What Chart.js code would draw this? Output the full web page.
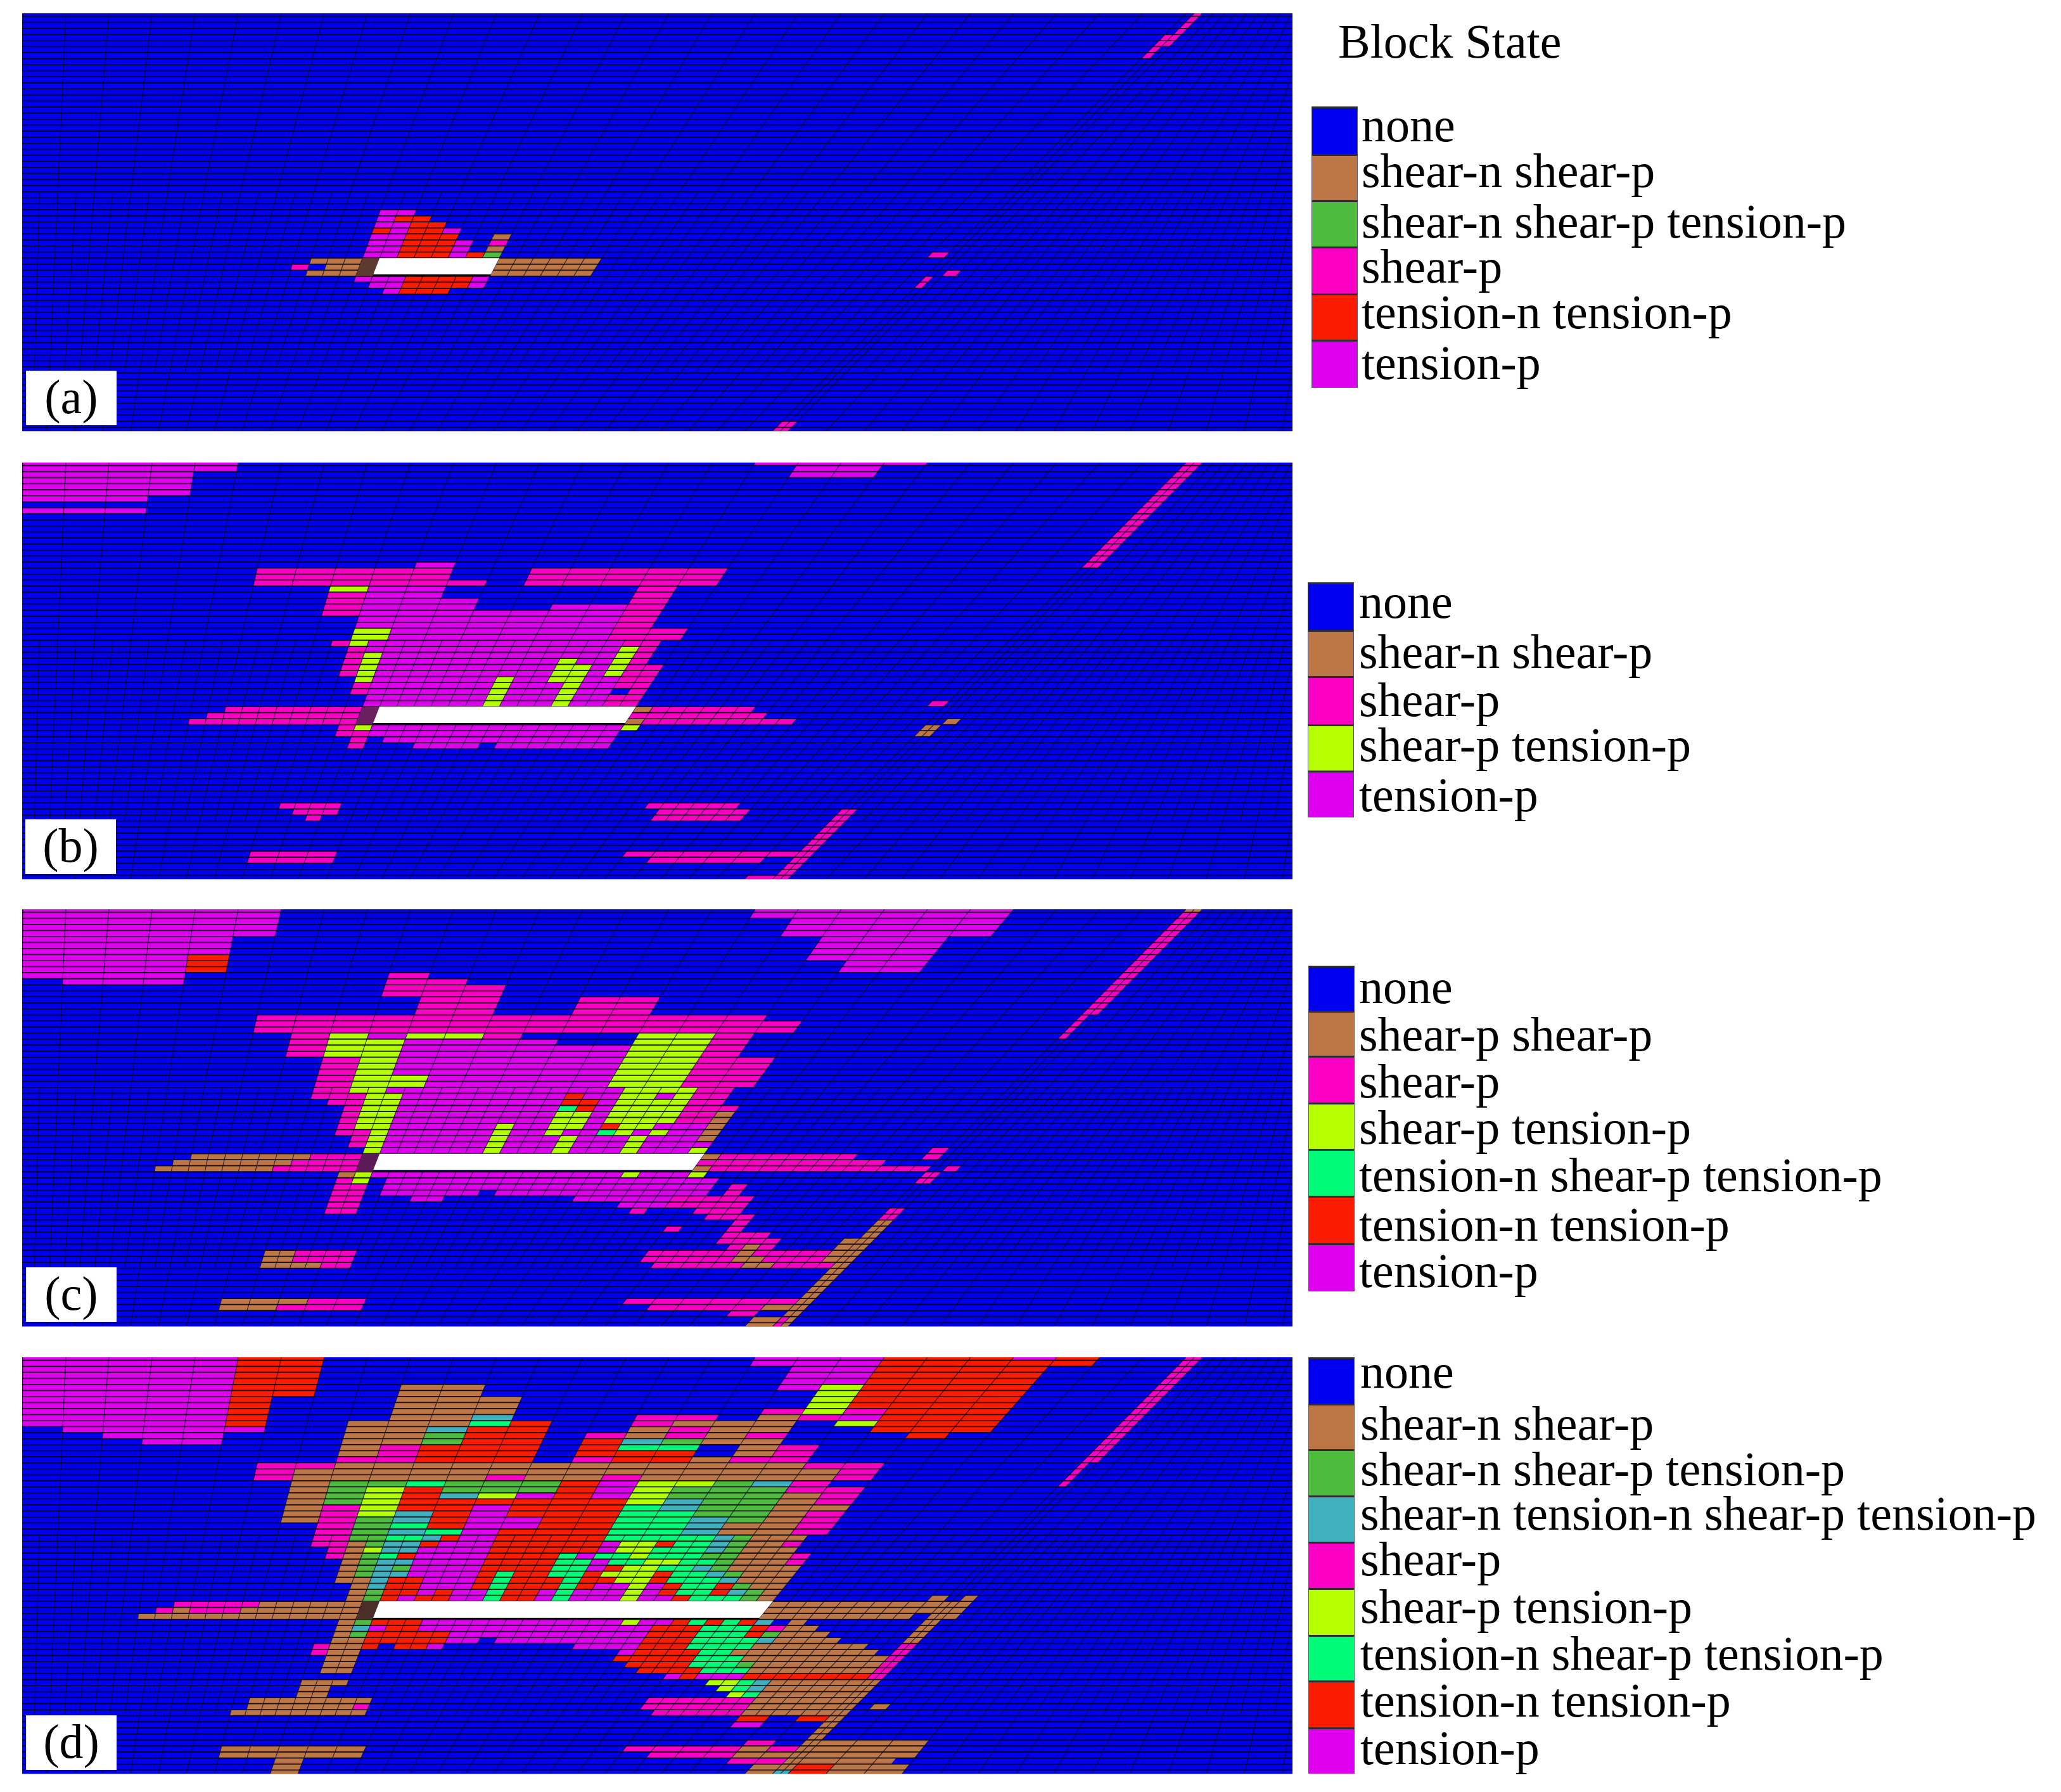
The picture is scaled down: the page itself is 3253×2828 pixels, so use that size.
<!DOCTYPE html>
<html>
<head>
<meta charset="utf-8">
<title>Block State</title>
<script src="https://cdn.jsdelivr.net/npm/chart.js@4/dist/chart.umd.min.js"></script>
<style>
  html, body { margin: 0; padding: 0; background: #fff; }
  #page { position: relative; width: 3253px; height: 2828px; overflow: hidden; font-family: "Liberation Serif", serif; color: #000; }
  canvas { position: absolute; display: block; box-shadow: 0 1px 0 #a3a394; }
  .tag { position: absolute; width: 143px; background: #fff; text-align: center; font-size: 76px; line-height: 82px; padding-bottom: 4px; }
  .swatch { position: absolute; left: 0; width: 73px; box-sizing: border-box; border-top: 3px solid #2c2c30; border-left: 1px solid #55556a; border-right: 1px solid #55556a; }
  .lbl { position: absolute; font-size: 76px; line-height: 76px; white-space: pre; }
</style>
</head>
<body>
<div id="page"></div>
<script>
// block states
const NO = 'none', BR = 'shear-n shear-p', GR = 'shear-n shear-p tension-p', TE = 'shear-n tension-n shear-p tension-p',
      SP = 'shear-p', LI = 'shear-p tension-p', SG = 'tension-n shear-p tension-p', RD = 'tension-n tension-p', TV = 'tension-p';

const stateColors = {
  [NO]: '#0000f0', [BR]: '#bd7747', [GR]: '#4dbb3d', [TE]: '#40b0bf', [SP]: '#fb00c4',
  [LI]: '#b4ff00', [SG]: '#00fb78', [RD]: '#fb1c00', [TV]: '#e000f0'
};

const legendA = [NO, BR, GR, SP, RD, TV];
const legendB = [NO, BR, SP, LI, TV];
const legendC = [NO, 'shear-p shear-p', SP, LI, SG, RD, TV];
const legendD = [NO, BR, GR, TE, SP, LI, SG, RD, TV];
const panelTags = ['(a)', '(b)', '(c)', '(d)'];
const tunnelEnds = [14, 18, 20, 22];   // right end of the opening, mesh column

// rows of the mesh: [rowFrom, rowTo, col, state, col, state, col ...]
const blocksA = [
  [0.5,4,27.25,SP,27.5],[4,6,27,SP,27.5],[6,8,27,SP,27.25],
  [33,34,10,TV,11],[34,35,10,TV,10.5,RD,11.5],[35,36,10,TV,11,RD,12],[36,37,10,RD,10.5,TV,11,RD,12,TV,12.5],
  [37,38,10,TV,11,RD,12.5,NO,13.5,BR,14],[38,39,10,TV,11,RD,12.5,TV,13,NO,13.5,SP,14],[39,40,10,TV,11,RD,12.5,TV,13,NO,13.5,BR,14],
  [40,41,10,TV,11,RD,12.5,TV,13,RD,13.5,GR,14,NO,26.5,SP,27],
  [41,42,8.5,BR,10],[42,43,8,SP,8.5,NO,9,BR,10],[43,44,8.5,BR,10,NO,27.5,SP,28],[41,44,14,BR,17],
  [44,45,10,TV,11.5,RD,13.5,TV,14,NO,27,SP,27.25],[45,46,10.5,TV,11.5,RD,13.5,TV,14,NO,27,SP,27.25],[46,47,11,TV,11.5,RD,13],
  [68,69.6,27,SP,27.5]
];

const blocksB = [
  [0.5,2,0,TV,5],[2,6,0,TV,4],[6,7,0,TV,3],[8,9,0,TV,3],
  [0.5,18,27,SP,27.5],[0.5,1,17,TV,21],[1,3,18,TV,20],
  [17,18,10,TV,11],[18,20,6,SP,11,NO,13,SP,18],[20,21,6,SP,12,NO,13,SP,18],
  [21,22,8,LI,9,TV,11,NO,16,SP,17],[22,23,8,SP,9,TV,11,NO,16,SP,17],[23,24,8,SP,9,TV,12,NO,16,SP,17],
  [24,25,8,SP,9,TV,12,NO,14,TV,16,SP,17],[25,26,8,SP,9,TV,16,SP,17],[26,28,9,TV,16,SP,17],
  [28,30,9,LI,10,TV,16,SP,18],
  [30,31,8.5,SP,9,LI,9.5,TV,16.5,SP,17.5],[31,32,9,SP,9.5,TV,16.5,LI,17,SP,17.5],
  [32,33,9,SP,9.5,LI,10,TV,16.5,LI,17,SP,17.5],[33,34,9,SP,9.5,LI,10,TV,15,LI,15.5,TV,16.5,LI,17,SP,17.5],
  [34,36,9,SP,9.5,LI,10,TV,15,LI,16,TV,16.5,LI,17,SP,18],
  [36,37,9.5,LI,10,TV,13.5,LI,14,TV,15,LI,16,TV,17,SP,18],
  [37,38,9.5,SP,10,TV,13.5,LI,14,TV,15.5,LI,16,TV,17,SP,18],
  [38,39,9.5,SP,10,TV,13.5,LI,14,TV,15.5,LI,16,TV,17,NO,17.5,SP,18],
  [39,41,10,TV,13.5,LI,14,TV,15.5,LI,16,TV,17,SP,18],
  [40,41,26.5,SP,27],
  [41,42,6,SP,10,NO,18,BR,18.5,SP,21.5],[42,43,5.5,SP,10,NO,18,SP,22],[43,44,5,SP,10,NO,18,BR,18.5,SP,23,NO,27.5,BR,28],
  [44,45,9.5,SP,10,LI,10.5,TV,18,LI,18.5,NO,27,BR,27.5],[45,46,9.5,SP,10.5,TV,18,NO,27,BR,27.5],
  [46,47,10,SP,10.5,NO,11,TV,18],[47,48,10,SP,10.5,NO,12,TV,14,NO,14.5,TV,18],
  [57,58,8.5,SP,10.5,NO,20.5,SP,23.5],[58,59,9,SP,10.5,NO,21,SP,24,NO,27,SP,27.5],[59,60,9.5,SP,10,NO,21,SP,24,NO,27,SP,27.5],
  [60,65,27,SP,27.5],[65,66,8,SP,11,NO,21,SP,27.5],[66,67,8,SP,11,NO,22,SP,26,NO,27,SP,27.5],
  [67,69,27,SP,27.5],[69,69.6,26,SP,27.5]
];

const blocksC = [
  [0.5,1,0,TV,6,NO,17,TV,23,NO,27,BR,27.5],[1,2,0,TV,6,NO,17,TV,23,NO,27,SP,27.5],[2,5,0,TV,6,NO,18,TV,23,NO,27,SP,27.5],
  [5,8,0,TV,5,NO,19,TV,22,NO,27,SP,27.5],[8,9,0,TV,4,RD,5,NO,19,TV,22,NO,27,SP,27.5],[9,11,0,TV,4,RD,5,NO,20,TV,22,NO,27,SP,27.5],
  [11,12,0,TV,4,NO,9,SP,10,NO,27,SP,27.5],[12,13,1,TV,4,NO,9,SP,11,NO,27,SP,27.5],[13,15,9,SP,12,NO,27,SP,27.5],
  [15,18,10,SP,12,NO,14,SP,16,NO,27,SP,27.5],
  [18,19,6,SP,19,NO,27,SP,27.25],[19,21,6,SP,20,NO,27,SP,27.25],
  [21,22,7,SP,8,LI,9,TV,10,LI,12,SP,13,NO,16,LI,18,SP,19,NO,27,SP,27.25],
  [22,23,7,SP,8,LI,10,TV,14,NO,16,LI,18,SP,19],[23,25,7,SP,8,LI,10,TV,16,LI,18,SP,19],
  [25,28,8,SP,9,LI,10,TV,16,LI,18,SP,20],[28,30,8,SP,9,LI,11,TV,16,LI,18,SP,20],
  [30,31,8,SP,9,LI,10,TV,16.5,LI,18.5,SP,19.5],
  [31,32,8,SP,9.5,LI,10.5,TV,15,RD,15.5,TV,16.5,LI,17.5,TV,18,LI,18.5,SP,19.5],
  [32,33,8.5,SP,9.5,LI,10.5,TV,15,RD,16,TV,16.5,LI,18.5,SP,19.5],
  [33,34,9,SP,9.5,LI,10.5,TV,15,SG,15.5,RD,16,TV,16.5,LI,18.5,SP,20],
  [34,35,9,SP,9.5,LI,10.5,TV,15,LI,16,TV,16.5,LI,18.5,SP,19.5,BR,20],
  [35,36,9,SP,9.5,LI,10.5,TV,15,LI,16,TV,16.5,LI,18.5,SP,19.5,BR,20],
  [36,37,9,SP,9.5,LI,10.5,TV,13.5,LI,14,TV,15,LI,16,TV,16.5,RD,17,LI,18,TV,19.5,BR,20],
  [37,38,9,SP,10,LI,10.5,TV,13.5,LI,14,TV,15,LI,15.5,TV,16.5,SG,17,LI,17.5,TV,18,LI,18.5,TV,19.5,BR,20],
  [38,39,9.5,SP,10,LI,10.5,TV,13.5,LI,14,TV,15.5,LI,16,TV,17.5,LI,18,TV,19.5,BR,20],
  [39,40,9.5,SP,10,LI,10.5,TV,13.5,LI,14,TV,15.5,LI,16,TV,17.5,LI,18,TV,20],
  [40,41,10,LI,10.5,TV,13.5,LI,14,TV,15.5,LI,16,TV,17.5,LI,18,TV,19.5,LI,20,NO,26.5,SP,27],
  [41,42,5,BR,8.5,SP,10,NO,20,BR,20.5,SP,24.5,NO,26.5,SP,27],[42,43,4.5,BR,8,SP,10,NO,20,SP,25.5],
  [43,44,4,BR,7.5,SP,10,NO,20,BR,20.5,SP,27,NO,27.5,SP,28],
  [44,45,9.5,BR,10,LI,10.5,TV,18,LI,18.5,TV,20,LI,20.5,NO,27,SP,27.5],
  [45,46,9.5,SP,10,LI,10.5,NO,11,TV,21,NO,27,SP,27.5],
  [46,47,9.5,SP,10.5,NO,11,TV,21,NO,21.5,SP,22],[47,48,9.5,SP,10.5,NO,11,TV,14,NO,14.5,TV,21,NO,21.5,SP,22],
  [48,49,9.5,SP,10.5,NO,12,TV,13,NO,17,TV,20,SP,22.5],[49,50,9.5,SP,10.5,NO,18.5,TV,20,SP,22.5],
  [50,51,9.5,SP,10.5,NO,19,SP,19.5,NO,21,SP,22.5,NO,27,SP,27.5],[51,52,21.5,SP,23,NO,27,SP,27.5],
  [52,53,22.5,SP,23,NO,27,BR,27.5],[53,54,20.5,SP,21,NO,22.5,SP,23,NO,27,BR,27.5],
  [54,55,22.5,SP,24,NO,27,BR,27.5],[55,56,22.5,SP,24.5,NO,26.5,BR,27.5],[56,57,23,SP,23.5,BR,24,SP,24.5,NO,26.5,BR,27.5],
  [57,58,8,BR,9,SP,11,NO,20.5,SP,23.5,BR,24,SP,26.5,BR,27.5],[58,59,8,BR,9,SP,11,NO,20.5,SP,23.5,BR,24.5,SP,26.5,BR,27.5],
  [59,60,8,BR,10,SP,11,NO,21,SP,24,BR,25,SP,27,BR,27.5],
  [60,65,27,BR,27.5],[65,66,7,BR,10,SP,12,NO,21,SP,27,BR,27.5],[66,67,7,BR,9,SP,12,NO,22,SP,26,BR,27.5],
  [67,68,25,SP,26,NO,27,BR,27.5],[68,69.6,26,BR,27,SP,27.25,BR,27.5]
];

const blocksD = [
  [0.5,1,0,TV,5,RD,7,NO,17,TV,20,RD,23,TV,24,RD,25,NO,27,SP,27.5],
  [1,2,0,TV,5,RD,7,NO,17,TV,20,RD,25,NO,27,SP,27.5],
  [2,5,0,TV,5,RD,7,NO,18,TV,20,RD,24,NO,27,SP,27.5],
  [5,6,0,TV,5,RD,7,NO,9,BR,11,NO,18,TV,19,LI,20,RD,24,NO,27,SP,27.5],
  [6,7,0,TV,5,RD,7,NO,9,BR,11,NO,19,LI,20,RD,24,NO,27,SP,27.5],
  [7,9,0,TV,5,RD,6,NO,9,BR,12,NO,19,LI,20,RD,24,NO,27,SP,27.5],
  [9,10,0,TV,5,RD,6,NO,9,BR,12,NO,18,SP,19,LI,20,SP,21,RD,24,NO,27,SP,27.5],
  [10,11,0,TV,5,RD,6,NO,9,BR,11,TE,12,NO,15,SP,17,NO,18,BR,19,SP,20,TV,21,RD,24,NO,27,SP,27.5],
  [11,12,0,TV,5,RD,6,NO,8,BR,11,SG,12,RD,13,NO,15,SP,16,BR,19,NO,20,LI,21,RD,24,NO,27,SP,27.5],
  [12,13,1,TV,6,NO,8,BR,10,TE,11,RD,13,NO,15,BR,16,SP,17,BR,19,NO,21,RD,24,NO,27,SP,27.5],
  [13,14,2,TV,5,NO,8,BR,10,GR,11,RD,13,NO,14,SP,15,BR,16,SP,17,BR,18,SP,19,NO,22,RD,23,NO,27,SP,27.5],
  [14,15,3,TV,5,NO,8,BR,10,GR,11,RD,13,NO,14,RD,15,TE,16,GR,17,BR,19,NO,27,SP,27.5],
  [15,16,8,BR,9,SP,10,RD,13,NO,14,RD,15,SG,17,NO,18,BR,19,SP,20,NO,27,SP,27.5],
  [16,17,8,BR,9,SP,10,RD,13,NO,14,RD,17,NO,18,BR,19,SP,20,NO,27,SP,27.5],
  [17,18,8,SP,10,RD,13,NO,14,SP,15,RD,17,BR,18,SP,20,NO,27,SP,27.5],
  [18,19,6,SP,8,BR,20,SP,22,NO,27,SP,27.25],
  [19,20,6,SP,7,BR,21,SP,22,NO,27,SP,27.25],
  [20,21,6,SP,7,BR,12,SP,13,BR,15,SP,16,BR,21,SP,22,NO,27,SP,27.25],
  [21,22,7,BR,8,GR,10,SG,11,GR,14,RD,15,TV,16,LI,18,GR,19,TE,20,SP,21,NO,27,SP,27.25],
  [22,23,7,BR,8,GR,9,LI,10,RD,11,GR,14,RD,15,TV,16,LI,17,GR,20,SP,22],
  [23,24,7,BR,8,GR,9,LI,10,RD,11,TE,12,LI,13,TV,14,RD,15,TV,16,LI,17,GR,20,BR,21,SP,22],
  [24,25,7,BR,8,GR,9,LI,10,RD,16,LI,17,TE,18,GR,20,BR,21,SP,22],
  [25,26,7,BR,8,SP,9,LI,10,RD,12,TV,13,RD,16,SG,17,TE,18,GR,20,BR,22],
  [26,27,7,BR,8,SP,9,LI,10,TE,11,RD,12,TV,13,RD,16,SG,18,GR,20,BR,21,SP,22],
  [27,28,7,BR,8,SP,9,GR,10,TE,11,RD,12,TV,14,RD,16,SG,18,TE,19,GR,20,BR,21,SP,22],
  [28,29,8,SP,9,GR,10,SG,11,RD,12,TV,14,RD,16,SG,18,TE,19,BR,21,SP,22],
  [29,30,8,SP,9,GR,10,TE,11,SG,12,TV,13,RD,16,SG,18,TE,19,BR,21,SP,22],
  [30,31,8,SP,9,GR,10,SG,11,TE,11.5,RD,12,TV,13,RD,16,SG,19,TE,19.5,GR,20,BR,21.5],
  [31,32,8,SP,9,BR,9.5,GR,10,TE,11,RD,11.5,TV,13,RD,16,TV,16.5,LI,17.5,RD,18,SG,19,TE,19.5,GR,20,BR,21,SP,21.5],
  [32,33,8.5,SP,9,BR,9.5,LI,10,TE,11,TV,13,RD,16,TV,16.5,LI,17.5,SG,19,TE,19.5,GR,20,BR,21.5],
  [33,34,8.5,SP,9,BR,9.5,GR,10,SG,10.5,RD,11,TV,13,RD,15,SG,15.5,TV,16,SG,17,LI,17.5,SG,19,GR,20,BR,21.5,SP,22],
  [34,35,9,BR,9.5,GR,10,TE,11,TV,13,RD,15,SG,16,TV,16.5,SG,17.5,LI,18.5,SG,19.5,GR,20,BR,21.5,SP,22],
  [35,36,9,BR,9.5,GR,10,TE,10.5,GR,11,TV,13,RD,15,SG,16,TV,16.5,RD,17,LI,18,SG,19,TE,19.5,GR,20,BR,22],
  [36,37,9,BR,9.5,GR,10,TE,11,TV,13,RD,13.5,SG,14,RD,15,SG,16,RD,16.5,LI,18,RD,18.5,SG,19.5,TE,20,GR,20.5,BR,22],
  [37,38,9,BR,10,TE,10.5,RD,11.5,TV,13,RD,13.5,SG,14,RD,15.5,SG,16,RD,17,LI,18,RD,18.5,SG,20,TE,20.5,BR,22],
  [38,39,9.5,BR,10,TE,10.5,RD,11.5,TV,13,RD,13.5,SG,14,RD,15.5,SG,16,RD,16.5,TV,17.5,LI,18,TV,18.5,RD,19,SG,20,RD,20.5,GR,21,BR,22],
  [39,40,9.5,BR,10,GR,10.5,RD,11.5,TV,12,RD,12.5,TV,13.5,SG,14,RD,15,TV,15.5,SG,16,TV,17.5,LI,18,TV,18.5,RD,19,SG,20,RD,20.5,TE,21,GR,21.5,BR,22],
  [40,41,9.5,BR,10,GR,10.5,RD,11,TV,11.5,RD,12.5,TV,13.5,SG,14,RD,15,TV,15.5,SG,16,TV,17.5,LI,18,TV,19,RD,19.5,SG,21,GR,21.5,BR,22,NO,26.5,BR,27,NO,27.5,BR,28],
  [41,42,4.5,SP,7,BR,10,NO,22,BR,27.5,NO,27.5,BR,28],
  [42,43,4,SP,4.5,BR,5,SP,6.5,BR,10,NO,22,BR,27.5,NO,27.5,BR,28],
  [43,44,3.5,BR,10,NO,22,BR,26.5,NO,27,BR,27.5,BR,28],
  [44,45,9.5,BR,10,GR,10.5,RD,12,TV,18,LI,18.5,TV,19.5,RD,20,SG,20.5,RD,21,SG,21.5,RD,22,TE,22.5,NO,23,BR,23.5,NO,27,BR,27.5],
  [45,46,9.5,BR,10,TE,10.5,TV,11,RD,12,TV,19,RD,20.5,SG,22,RD,22.5,SP,23,BR,24,NO,27,BR,27.5],
  [46,47,9.5,BR,10,GR,10.5,RD,13,TV,19,RD,20.5,SG,22,RD,22.5,GR,23,BR,24.5,NO,27,BR,27.5],
  [47,48,9.5,BR,10.5,RD,13,TV,14,NO,14.5,TV,19,RD,20.5,SG,22.5,TE,23,BR,25,NO,27,BR,27.5],
  [48,49,9,SP,9.5,BR,10.5,RD,11,NO,11.5,RD,12.5,TV,13,NO,17,TV,19,RD,20.5,SG,22.5,BR,26,NO,27,SP,27.5],
  [49,50,9,SP,9.5,BR,10.5,NO,18.5,TV,19,RD,21,SG,22,BR,26.5,NO,27,SP,27.5],
  [50,51,9.5,BR,10.5,NO,18.5,RD,21,SG,22.5,BR,27,SP,27.5],
  [51,52,9.5,BR,10.5,NO,19,RD,21,SG,22.5,GR,23,BR,27,SP,27.5],
  [52,53,9.5,BR,10.5,NO,19.5,RD,21.5,SG,23,BR,27,SP,27.5],
  [53,54,20.5,TV,21,RD,21.5,TV,23,RD,27,SP,27.5],
  [54,55,9,BR,10.5,NO,22,LI,23,SG,23.5,TE,24,BR,27.5],
  [55,56,9,BR,10,NO,22.5,LI,23,SG,23.5,TE,24,BR,27.5],
  [56,57,9,BR,10,NO,23,LI,23.5,SG,24,BR,27.5],
  [57,58,7.5,BR,11.5,NO,20.5,SP,24,BR,27.5],
  [58,59,7.5,BR,11,SP,11.5,NO,20.5,SP,24,BR,27.5,NO,28,BR,28.5],
  [59,60,7,BR,11.5,NO,21,SP,24,BR,27.5],
  [60,61,24,RD,25,NO,26,RD,27,BR,27.5],[61,64,27,BR,27.5],[61,62,24,TV,25],
  [64,65,25,SP,26,NO,27,BR,30.5],
  [65,66,7,BR,12,NO,21,SP,25,BR,26,SP,27,BR,30.5],
  [66,67,7,BR,12,NO,22,SP,25,BR,30.5],
  [67,68,9,BR,10,NO,25,SP,27,BR,30],
  [68,69,9,BR,10,NO,26,BR,27.5,RD,28.5,BR,30.5],
  [69,69.6,9,BR,10,NO,26,BR,27,TE,27.5,RD,28.5,BR,30.5]
];

const panelBlocks = [blocksA, blocksB, blocksC, blocksD];
const hatchColors = ['#5c3a30', '#6a1f60', '#5c1a58', '#4c2e28'];

// page layout
const panelBoxes = [[35, 21, 2005, 659], [35, 730, 2005, 657], [35, 1435, 2005, 658], [35, 2142, 2005, 657]];
const tagBoxes = [[41, 585], [40, 1293], [41, 2000], [41, 2707]];
const legendBoxes = [
  { x: 2070, textX: 2149, swatches: [168, 243, 316, 389, 463, 536, 612], baselines: [223, 295, 375, 446, 518, 598], list: legendA },
  { x: 2064, textX: 2145, swatches: [919, 994, 1067, 1143, 1216, 1290], baselines: [975, 1054, 1130, 1201, 1280], list: legendB },
  { x: 2065, textX: 2145, swatches: [1524, 1595, 1666, 1740, 1813, 1887, 1962, 2038], baselines: [1583, 1658, 1732, 1805, 1880, 1958, 2031], list: legendC },
  { x: 2065, textX: 2147, swatches: [2142, 2215, 2287, 2360, 2433, 2506, 2580, 2652, 2726, 2799], baselines: [2190, 2272, 2344, 2414, 2486, 2561, 2635, 2709, 2784], list: legendD }
];

const ROW_TOP = 0.5, ROW_BOTTOM = 69.6;

// mesh columns lean more the further right they are; the fault sits at column 27..27.5
function colTop(c) {
  if (c <= 27) return 36 + 68 * c;
  if (c <= 27.5) return 1872 + 52 * (c - 27);
  return 1898 + 17.5 * (c - 27.5);
}
function colBottom(c) {
  if (c <= 27) return 74 + (36 + 68 * c - 104) * 0.648;
  if (c <= 27.5) return 1220 + 48 * (c - 27);
  return 1244 + 60 * (c - 27.5);
}
function meshPoint(c, k) {
  const f = (k - ROW_TOP) / (ROW_BOTTOM - ROW_TOP);
  return { x: colTop(c) + (colBottom(c) - colTop(c)) * f, y: k };
}
const GAP = { x: null, y: null };

function quad(c0, c1, k0, k1) {
  return [meshPoint(c0, k0), meshPoint(c1, k0), meshPoint(c1, k1), meshPoint(c0, k1), GAP];
}

function stateDatasets(blocks) {
  const byState = {};
  blocks.forEach(row => {
    for (let i = 2; i + 2 < row.length; i += 2) {
      if (row[i + 1] === NO) continue;
      (byState[row[i + 1]] = byState[row[i + 1]] || []).push(...quad(row[i], row[i + 2], row[0], row[1]));
    }
  });
  return Object.keys(byState).map(state => ({
    label: state, data: byState[state], cellFill: stateColors[state], showLine: false, pointRadius: 0, order: 5
  }));
}

function meshLines() {
  const rows = [], cols = [];
  for (let k = 1; k <= 69; k++) rows.push({ x: 0, y: k }, { x: 2100, y: k }, GAP);
  const cut = (c, k0, k1) => cols.push(meshPoint(c, k0), meshPoint(c, k1), GAP);
  for (let c = 0; c <= 27; c++) cut(c, ROW_TOP, ROW_BOTTOM);
  for (let c = 0.5; c < 27; c++) cut(c, 30, 60);
  cut(27.25, ROW_TOP, ROW_BOTTOM);
  for (let i = 0; i <= 16; i++) {
    cut(27.5 + i, ROW_TOP, ROW_BOTTOM);
    cut(28 + i, 30, 60);
  }
  return [
    { label: 'rows', data: rows, showLine: true, borderColor: 'rgba(0,0,0,0.85)', borderWidth: 1.8, pointRadius: 0, order: 2 },
    { label: 'columns', data: cols, showLine: true, borderColor: 'rgba(10,10,40,0.7)', borderWidth: 1.3, pointRadius: 0, order: 1 }
  ];
}

function openingDatasets(end, hatch) {
  return [
    { label: 'hatch', data: quad(10, 10.5, 41, 44), overlayFill: hatch, showLine: false, pointRadius: 0, order: 6 },
    { label: 'opening', data: quad(10.5, end, 41, 43.72), overlayFill: '#ffffff', showLine: false, pointRadius: 0, order: 6 },
    { label: 'floor', data: quad(10.5, end, 43.72, 44), overlayFill: '#050505', showLine: false, pointRadius: 0, order: 6 }
  ];
}

// fills the cell outlines using the element positions the scales worked out
function fillCells(chart, key) {
  const ctx = chart.ctx;
  ctx.save();
  chart.data.datasets.forEach((ds, i) => {
    if (!ds[key]) return;
    ctx.fillStyle = ds[key];
    let open = false;
    chart.getDatasetMeta(i).data.forEach(pt => {
      if (pt.skip) {
        if (open) { ctx.closePath(); ctx.fill(); }
        open = false;
      } else if (!open) {
        ctx.beginPath();
        ctx.moveTo(pt.x, pt.y);
        open = true;
      } else {
        ctx.lineTo(pt.x, pt.y);
      }
    });
  });
  ctx.restore();
}

const cellPlugin = {
  id: 'cellFill',
  beforeDatasetsDraw(chart) { fillCells(chart, 'cellFill'); },
  afterDatasetsDraw(chart) { fillCells(chart, 'overlayFill'); }
};

const page = document.getElementById('page');

panelBoxes.forEach((box, p) => {
  const canvas = document.createElement('canvas');
  canvas.width = box[2];
  canvas.height = box[3];
  canvas.style.cssText = `left:${box[0]}px;top:${box[1]}px;width:${box[2]}px;height:${box[3]}px;background:${stateColors[NO]}`;
  page.appendChild(canvas);
  new Chart(canvas.getContext('2d'), {
    type: 'scatter',
    data: { datasets: [...stateDatasets(panelBlocks[p]), ...meshLines(), ...openingDatasets(tunnelEnds[p], hatchColors[p])] },
    options: {
      responsive: false,
      animation: false,
      layout: { padding: 0 },
      scales: {
        x: { type: 'linear', display: false, min: 35, max: 2040 },
        y: { type: 'linear', display: false, min: ROW_TOP, max: ROW_BOTTOM, reverse: true }
      },
      plugins: { legend: { display: false }, tooltip: { enabled: false } }
    },
    plugins: [cellPlugin]
  });

  const tag = document.createElement('div');
  tag.className = 'tag';
  tag.textContent = panelTags[p];
  tag.style.left = tagBoxes[p][0] + 'px';
  tag.style.top = tagBoxes[p][1] + 'px';
  page.appendChild(tag);
});

function addLabel(text, x, baseline) {
  const el = document.createElement('div');
  el.className = 'lbl';
  el.textContent = text;
  el.style.left = x + 'px';
  el.style.top = (baseline - 64) + 'px';
  page.appendChild(el);
}

addLabel('Block State', 2112, 91);

legendBoxes.forEach(leg => {
  leg.list.forEach((state, i) => {
    const sw = document.createElement('div');
    sw.className = 'swatch';
    sw.style.left = leg.x + 'px';
    sw.style.top = leg.swatches[i] + 'px';
    sw.style.height = (leg.swatches[i + 1] - leg.swatches[i]) + 'px';
    sw.style.background = stateColors[state] || stateColors[BR];
    page.appendChild(sw);
    addLabel(state, leg.textX, leg.baselines[i]);
  });
});
</script>
</body>
</html>
